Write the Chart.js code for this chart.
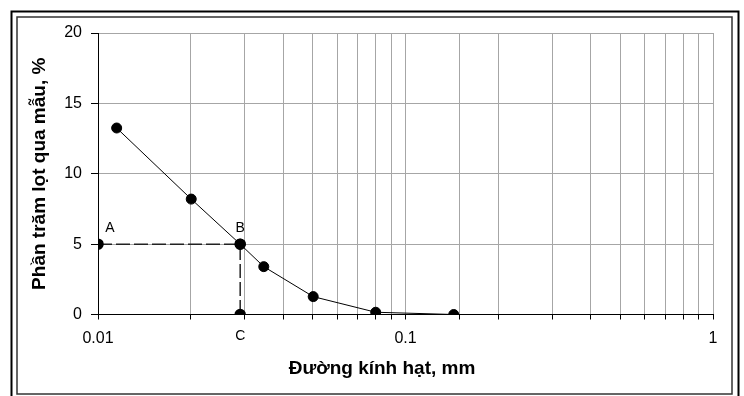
<!DOCTYPE html>
<html>
<head>
<meta charset="utf-8">
<script src="https://cdn.jsdelivr.net/npm/chart.js@4/dist/chart.umd.min.js"></script>
<style>
  html, body { margin: 0; padding: 0; background: #fff; }
  #wrap { width: 744px; height: 396px; position: relative; }
  canvas { display: block; }
</style>
</head>
<body>
<div id="wrap"><canvas id="c" width="744" height="396"></canvas></div>
<script>
// Grain size curve (log x)
const diameters = [0.0115, 0.0201, 0.029, 0.0346, 0.0501, 0.080, 0.1435];
const percentPassing = [13.25, 8.2, 5.0, 3.4, 1.27, 0.16, 0];
// Guide lines A-B-C
const guideX = [0.01, 0.029, 0.029];
const guideY = [5, 5, 0];
const guideLabels = ['A', 'B', 'C'];
// Axes
const yTicks = [0, 5, 10, 15, 20];
const xLabelValues = [0.01, 0.1, 1];
const xTitle = 'Đường kính hạt, mm';
const yTitle = 'Phần trăm lọt qua mẫu, %';

const FONT = '"Liberation Sans", Arial, sans-serif';

const framePlugin = {
  id: 'frame',
  afterDraw(chart) {
    const ctx = chart.ctx;
    ctx.save();
    ctx.strokeStyle = '#000';
    ctx.lineWidth = 2;
    ctx.strokeRect(11.5, 11.5, 727, 400);
    ctx.strokeStyle = '#333';
    ctx.lineWidth = 1.5;
    ctx.strokeRect(17, 17, 715, 377);
    // x axis title (centred on the chart frame, as in the reference)
    ctx.fillStyle = '#000';
    ctx.font = 'bold 19px ' + FONT;
    ctx.textAlign = 'center';
    ctx.textBaseline = 'middle';
    ctx.fillText(xTitle, 382, 369);
    ctx.restore();
  }
};

const labelPlugin = {
  id: 'abcLabels',
  afterDatasetsDraw(chart) {
    const ctx = chart.ctx;
    const xs = chart.scales.x, ys = chart.scales.y;
    const offsets = [[12, -16], [0, -16], [0, 22]];
    ctx.save();
    ctx.fillStyle = '#000';
    ctx.font = '14px ' + FONT;
    ctx.textAlign = 'center';
    ctx.textBaseline = 'middle';
    guideLabels.forEach((t, i) => {
      const px = xs.getPixelForValue(guideX[i]);
      const py = ys.getPixelForValue(guideY[i]);
      ctx.fillText(t, px + offsets[i][0], py + offsets[i][1]);
    });
    ctx.restore();
  }
};

new Chart(document.getElementById('c'), {
  type: 'scatter',
  data: {
    datasets: [
      {
        data: guideX.map((x, i) => ({ x, y: guideY[i] })),
        showLine: true,
        borderColor: '#222',
        borderWidth: 1.5,
        borderDash: [14, 4],
        pointRadius: 5,
        pointBackgroundColor: '#000',
        pointBorderColor: '#000',
        order: 2
      },
      {
        data: diameters.map((x, i) => ({ x, y: percentPassing[i] })),
        showLine: true,
        borderColor: '#000',
        borderWidth: 1,
        pointRadius: 5,
        pointBackgroundColor: '#000',
        pointBorderColor: '#000',
        order: 1
      }
    ]
  },
  options: {
    responsive: false,
    animation: false,
    events: [],
    layout: { padding: { left: 12, right: 31, top: 33, bottom: 0 } },
    plugins: { legend: { display: false }, tooltip: { enabled: false } },
    scales: {
      x: {
        type: 'logarithmic',
        min: 0.01,
        max: 1,
        afterFit(s) { s.height = 81.5; },
        border: { color: '#000', width: 1 },
        grid: { color: '#a6a6a6', lineWidth: 1, tickColor: '#000', tickLength: 5 },
        ticks: {
          autoSkip: false,
          maxRotation: 0,
          padding: 9,
          color: '#000',
          font: { family: FONT, size: 16 },
          callback(v) {
            return xLabelValues.some(t => Math.abs(t - v) / t < 1e-6) ? String(v) : '';
          }
        },
        title: { display: false }
      },
      y: {
        min: 0,
        max: 20,
        afterFit(s) { s.width = 86; },
        afterBuildTicks(s) { s.ticks = yTicks.map(v => ({ value: v })); },
        border: { color: '#000', width: 1 },
        grid: { color: '#a6a6a6', lineWidth: 1, tickColor: '#000', tickLength: 7 },
        ticks: {
          padding: 9,
          color: '#000',
          font: { family: FONT, size: 16 }
        },
        title: {
          display: true,
          text: yTitle,
          color: '#000',
          font: { family: FONT, size: 19, weight: 'bold' },
          padding: { top: 16, bottom: 0 }
        }
      }
    }
  },
  plugins: [framePlugin, labelPlugin]
});
</script>
</body>
</html>
